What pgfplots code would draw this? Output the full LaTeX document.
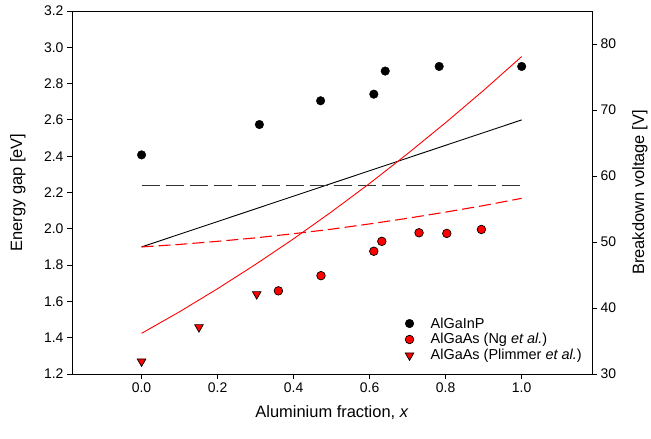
\documentclass[border=0pt]{standalone}
\usepackage{fontspec}
\setmainfont{Liberation Sans}
\usepackage{pgfplots}
\pgfplotsset{compat=1.18}

\pgfplotsset{
  common/.style={
    scale only axis, width=520bp, height=363bp,
    xmin=-0.183, xmax=1.185,
    tick align=outside, major tick length=5bp,
    tick style={black, line width=0.8bp},
    axis line style={line width=0.8bp},
    tick label style={font=\fontsize{14}{16}\selectfont},
    /pgf/number format/assume math mode=true,
  }
}

\begin{document}
\begin{tikzpicture}
% left axis: band gaps
\begin{axis}[common,
    ymin=1.2, ymax=3.2,
    xtick={0,0.2,0.4,0.6,0.8,1},
    ytick={1.2,1.4,1.6,1.8,2.0,2.2,2.4,2.6,2.8,3.0,3.2},
    xtick pos=bottom, ytick pos=left,
    xticklabel style={/pgf/number format/.cd, fixed, fixed zerofill, precision=1},
    yticklabel style={/pgf/number format/.cd, fixed, fixed zerofill, precision=1},
    xlabel={Aluminium fraction, \textit{x}},
    ylabel={Energy gap [eV]},
    every axis x label/.style={at={(axis description cs:0.5,-0.105)}, anchor=center,
      font=\fontsize{16.5}{19}\selectfont},
    every axis y label/.style={at={(axis description cs:-0.104,0.5)}, rotate=90, anchor=center,
      font=\fontsize{16.5}{19}\selectfont},
]
\addplot[black, line width=0.9bp] coordinates {(0,1.9) (1,2.6)};
\addplot[black!80, line width=1.3bp, dash pattern=on 18bp off 6bp] coordinates {(0,2.24) (1,2.24)};
\addplot[red, line width=0.9bp] coordinates {
  (0,1.424) (0.1,1.543) (0.2,1.670) (0.3,1.804) (0.4,1.945) (0.5,2.094)
  (0.6,2.250) (0.7,2.414) (0.8,2.585) (0.9,2.763) (1.0,2.949)
};
\addplot[red, line width=1.1bp, dash pattern=on 12bp off 5bp] coordinates {
  (0,1.900) (0.1,1.914) (0.2,1.931) (0.3,1.950) (0.4,1.973) (0.5,1.998)
  (0.6,2.027) (0.7,2.058) (0.8,2.092) (0.9,2.128) (1.0,2.168)
};
\end{axis}

% right axis: breakdown voltage
\begin{axis}[common,
    ymin=30, ymax=85,
    ytick={30,40,50,60,70,80},
    axis y line*=right, axis x line=none,
    ylabel={Breakdown voltage [V]},
    every axis y label/.style={at={(axis description cs:1.092,0.5)}, rotate=90, anchor=center,
      font=\fontsize{16.5}{19}\selectfont},
    legend style={draw=none, fill=none, at={(axis description cs:0.633,0.167)}, anchor=north west,
      font=\fontsize{14.5}{16}\selectfont, row sep=0bp},
    legend cell align=left,
    legend image code/.code={\path (-5bp,0bp) coordinate (a) (19bp,0bp) coordinate (b);
      \draw[#1] plot coordinates {(0bp,0bp)};},
]
\addplot[only marks, mark=*, mark size=4.3bp, mark options={fill=black, draw=black}] coordinates {
  (0,63.2) (0.31,67.8) (0.471,71.4) (0.611,72.4) (0.641,75.9) (0.783,76.6) (1.0,76.6)
};
\addlegendentry{AlGaInP}
\addplot[only marks, mark=*, mark size=4.3bp, mark options={fill=red, draw=black, line width=0.7bp}] coordinates {
  (0.36,42.6) (0.472,44.9) (0.611,48.6) (0.632,50.1) (0.730,51.4) (0.803,51.3) (0.894,51.9)
};
\addlegendentry{AlGaAs (Ng \textit{et al.})}
\addplot[only marks, mark=triangle*, mark size=5bp, mark options={rotate=180, fill=red, draw=black, line width=0.7bp}] coordinates {
  (0,31.9) (0.151,37.1) (0.303,42.1)
};
\addlegendentry{AlGaAs (Plimmer \textit{et al.})}
\end{axis}
\pgfresetboundingbox
\path[use as bounding box] (-72bp,-65bp) rectangle (579bp,374bp);
\end{tikzpicture}
\end{document}
